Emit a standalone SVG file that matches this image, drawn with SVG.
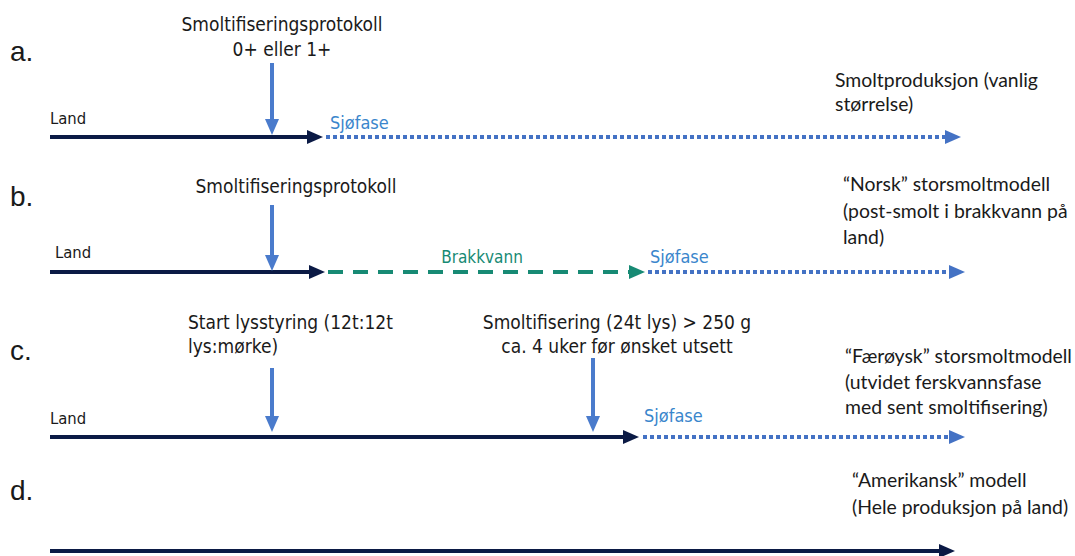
<svg xmlns="http://www.w3.org/2000/svg" width="1075" height="556" viewBox="0 0 1075 556">
<style>
.lbl{font-family:"DejaVu Sans Condensed","DejaVu Sans",sans-serif;font-size:19px;fill:#1a1a1a}
.sm{font-family:"DejaVu Sans Condensed","DejaVu Sans",sans-serif;font-size:16.5px;fill:#1a1a1a}
.sea{font-family:"DejaVu Sans Condensed","DejaVu Sans",sans-serif;font-size:18px;fill:#3a86cc}
.brk{font-family:"DejaVu Sans Condensed","DejaVu Sans",sans-serif;font-size:17px;fill:#178a74}
.side{font-family:Lato,"Open Sans",sans-serif;font-size:19.4px;fill:#1a1a1a}
.let{font-family:"Liberation Sans",Arial,sans-serif;font-size:28px;fill:#1a1a1a}
.land{stroke:#0b1a45;stroke-width:4;fill:none}
.sjo{stroke:#4472c4;stroke-width:4;stroke-dasharray:4 3;fill:none}
.bra{stroke:#178a74;stroke-width:4;stroke-dasharray:15 10;fill:none}
.down{stroke:#4a7bcc;stroke-width:4;fill:none}
</style>
<defs>
<marker id="hd" markerUnits="userSpaceOnUse" markerWidth="16" markerHeight="16" viewBox="0 0 16 16" refX="2" refY="8" orient="auto"><path d="M0,1 L16,8 L0,15 Z" fill="#0b1a45"/></marker>
<marker id="hb" markerUnits="userSpaceOnUse" markerWidth="16" markerHeight="16" viewBox="0 0 16 16" refX="2" refY="8" orient="auto"><path d="M0,1 L16,8 L0,15 Z" fill="#4472c4"/></marker>
<marker id="ht" markerUnits="userSpaceOnUse" markerWidth="16" markerHeight="16" viewBox="0 0 16 16" refX="2" refY="8" orient="auto"><path d="M0,1 L16,8 L0,15 Z" fill="#178a74"/></marker>
<marker id="hv" markerUnits="userSpaceOnUse" markerWidth="16" markerHeight="16" viewBox="0 0 16 16" refX="2" refY="8" orient="auto"><path d="M0,1 L16,8 L0,15 Z" fill="#4a7bcc"/></marker>
</defs>

<g id="labels">
<text class="let" x="10" y="61">a.</text>
<text class="let" x="10" y="206">b.</text>
<text class="let" x="10" y="360">c.</text>
<text class="let" x="10" y="500">d.</text>
</g>

<g id="row-a">
<text class="lbl" x="282" y="31" text-anchor="middle">Smoltifiseringsprotokoll</text>
<text class="lbl" x="282" y="56" text-anchor="middle">0+ eller 1+</text>
<text class="sm" x="50" y="124">Land</text>
<text class="sea" x="330" y="129">Sjøfase</text>
<text class="side" x="835" y="87">Smoltproduksjon (vanlig</text>
<text class="side" x="835" y="111">størrelse)</text>
</g>

<g id="row-b">
<text class="lbl" x="296" y="193" text-anchor="middle">Smoltifiseringsprotokoll</text>
<text class="sm" x="55" y="258">Land</text>
<text class="brk" x="482" y="263" text-anchor="middle">Brakkvann</text>
<text class="sea" x="650" y="263">Sjøfase</text>
<text class="side" x="843" y="191">“Norsk” storsmoltmodell</text>
<text class="side" x="843" y="218">(post-smolt i brakkvann på</text>
<text class="side" x="843" y="244">land)</text>
</g>

<g id="row-c">
<text class="lbl" x="188" y="329">Start lysstyring (12t:12t</text>
<text class="lbl" x="188" y="353">lys:mørke)</text>
<text class="lbl" x="617" y="329" text-anchor="middle">Smoltifisering (24t lys) &gt; 250 g</text>
<text class="lbl" x="617" y="353" text-anchor="middle">ca. 4 uker før ønsket utsett</text>
<text class="sm" x="50" y="424">Land</text>
<text class="sea" x="644" y="422">Sjøfase</text>
<text class="side" x="845" y="363">“Færøysk” storsmoltmodell</text>
<text class="side" x="845" y="389">(utvidet ferskvannsfase</text>
<text class="side" x="845" y="414">med sent smoltifisering)</text>
</g>

<g id="row-d">
<text class="side" x="852" y="487">“Amerikansk” modell</text>
<text class="side" x="852" y="514">(Hele produksjon på land)</text>
</g>

<g id="connectors">
<line class="land" x1="50" y1="137" x2="309" y2="137" marker-end="url(#hd)"/>
<line class="sjo" x1="326" y1="137" x2="947" y2="137" marker-end="url(#hb)"/>
<line class="down" x1="272" y1="63" x2="272" y2="121" marker-end="url(#hv)"/>

<line class="land" x1="50" y1="272" x2="311" y2="272" marker-end="url(#hd)"/>
<line class="bra" x1="328" y1="272" x2="631" y2="272" marker-end="url(#ht)"/>
<line class="sjo" x1="648" y1="272" x2="951" y2="272" marker-end="url(#hb)"/>
<line class="down" x1="272" y1="205" x2="272" y2="257" marker-end="url(#hv)"/>

<line class="land" x1="50" y1="437" x2="625" y2="437" marker-end="url(#hd)"/>
<line class="sjo" x1="643" y1="437" x2="951" y2="437" marker-end="url(#hb)"/>
<line class="down" x1="272" y1="368" x2="272" y2="418" marker-end="url(#hv)"/>
<line class="down" x1="593" y1="358" x2="593" y2="418" marker-end="url(#hv)"/>

<line class="land" x1="50" y1="551" x2="941" y2="551" marker-end="url(#hd)"/>
</g>
</svg>
